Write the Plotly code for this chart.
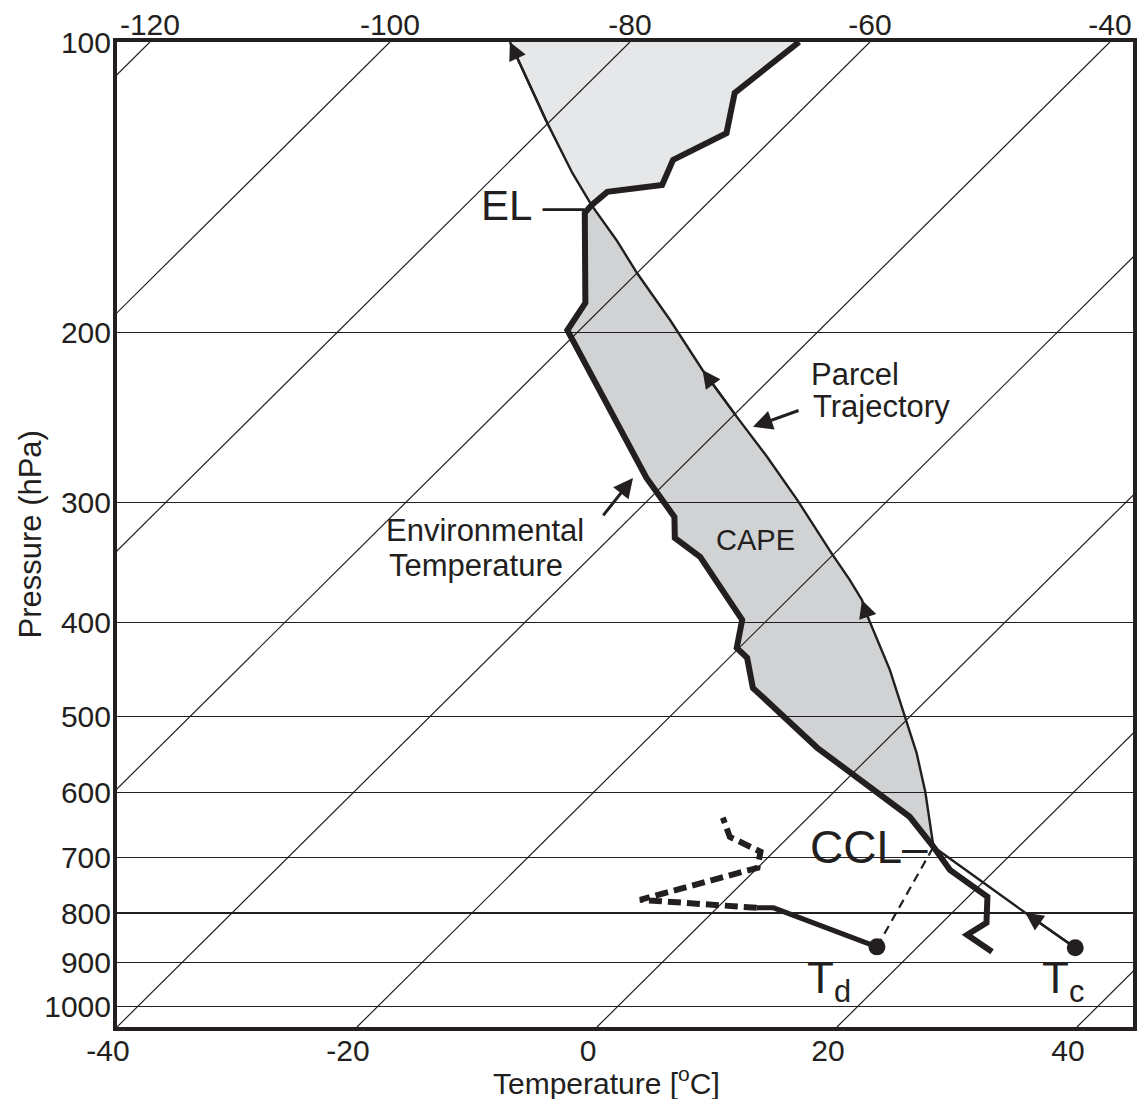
import math
import plotly.graph_objects as go

# ---------------- data ----------------
# Environmental temperature sounding, top -> bottom (hPa, deg C)
env_p = [100, 112.9, 124.3, 132.5, 140.7, 143.0, 147.6, 150.4, 186.4, 199, 283.1, 310.7,
         326.7, 341.8, 397.3, 424.8, 435.0, 467.3, 539.2, 635.7, 682.9, 721.5, 769.5,
         818.7, 842.6, 877.4]
env_T = [-65.9, -67.0, -64.3, -66.5, -65.3, -69.3, -69.5, -69.4, -61.8, -61.0, -42.0, -36.4,
         -34.6, -30.9, -22.1, -20.2, -18.5, -15.5, -5.1, 8.4, 12.9, 16.2, 21.6,
         23.7, 23.1, 26.6]
ENV_EL, ENV_CCL = 6, 20

# Parcel trajectory, bottom (convective temperature Tc) -> top
parcel_p = [869.1, 799.5, 682.9, 598.9, 545.7, 500.8, 447.6, 394.4, 378.8, 361.1, 338.6,
            298.3, 269.3, 244.7, 218.8, 194.2, 173.6, 160.4, 147.6, 136.7, 121.3, 100]
parcel_T = [33.2, 26.1, 12.9, 7.6, 3.6, -0.4, -5.6, -11.9, -13.8, -16.5, -20.3,
            -27.6, -33.7, -39.6, -46.4, -53.3, -60.0, -64.5, -69.5, -73.8, -80.1, -90.0]
PAR_CCL, PAR_EL = 2, 18
PAR_ARROWS = [1, 8, 14, 21]

# Dew point, surface (Td) -> up
td_p = [867.2, 790, 790, 775, 718, 691, 667, 637]
td_T = [16.6, 4.7, 3.3, -7.1, 0.0, -1.1, -4.9, -7.1]
TD_SOLID_END = 2

# Axes
isotherms = [-120, -100, -80, -60, -40, -20, 0, 20, 40]
bottom_ticks = [-40, -20, 0, 20, 40]
top_ticks = [-120, -100, -80, -60, -40]
p_ticks = [100, 200, 300, 400, 500, 600, 700, 800, 900, 1000]

# ---------------- skew-T geometry ----------------
P_BOT, P_TOP = 1050.0, 100.0
K = 35.19          # deg C of skew per unit ln(p)
X_RANGE = [-40, 44.667]


def skew(T, p):
    return T + K * math.log(P_BOT / p)


def sx(Ts, ps):
    return [skew(t, p) for t, p in zip(Ts, ps)]


INK = "#231f20"
FONT = "Liberation Sans, Arial, Helvetica, sans-serif"

fig = go.Figure()

# light shading above EL
up_T = parcel_T[PAR_EL:] + env_T[:ENV_EL + 1]
up_p = parcel_p[PAR_EL:] + env_p[:ENV_EL + 1]
fig.add_trace(go.Scatter(x=sx(up_T, up_p), y=up_p, mode="lines", fill="toself",
                         fillcolor="rgba(5,15,35,0.10)", line=dict(width=0),
                         hoverinfo="skip", showlegend=False))
# CAPE shading
cape_T = env_T[ENV_EL:ENV_CCL + 1] + parcel_T[PAR_CCL:PAR_EL + 1]
cape_p = env_p[ENV_EL:ENV_CCL + 1] + parcel_p[PAR_CCL:PAR_EL + 1]
fig.add_trace(go.Scatter(x=sx(cape_T, cape_p), y=cape_p, mode="lines", fill="toself",
                         fillcolor="rgba(13,18,28,0.19)", line=dict(width=0),
                         hoverinfo="skip", showlegend=False))

# isotherms (on the top axis, which shares the same range)
for T in isotherms:
    fig.add_trace(go.Scatter(x=[skew(T, P_BOT), skew(T, P_TOP)], y=[P_BOT, P_TOP],
                             mode="lines", line=dict(color=INK, width=1.2),
                             xaxis="x2", hoverinfo="skip", showlegend=False))

# environment
fig.add_trace(go.Scatter(x=sx(env_T, env_p), y=env_p, mode="lines",
                         line=dict(color=INK, width=6), hoverinfo="skip", showlegend=False))
# parcel
fig.add_trace(go.Scatter(x=sx(parcel_T, parcel_p), y=parcel_p, mode="lines",
                         line=dict(color=INK, width=2.4), hoverinfo="skip", showlegend=False))
# dew point (solid near surface, dashed above)
fig.add_trace(go.Scatter(x=sx(td_T[:TD_SOLID_END + 1], td_p[:TD_SOLID_END + 1]),
                         y=td_p[:TD_SOLID_END + 1], mode="lines",
                         line=dict(color=INK, width=5), hoverinfo="skip", showlegend=False))
fig.add_trace(go.Scatter(x=sx(td_T[TD_SOLID_END:], td_p[TD_SOLID_END:]),
                         y=td_p[TD_SOLID_END:], mode="lines",
                         line=dict(color=INK, width=6, dash="13px,6px"),
                         hoverinfo="skip", showlegend=False))
# mixing-ratio line Td -> CCL
mix_T = [td_T[0], parcel_T[PAR_CCL]]
mix_p = [td_p[0], parcel_p[PAR_CCL]]
fig.add_trace(go.Scatter(x=sx(mix_T, mix_p), y=mix_p, mode="lines",
                         line=dict(color=INK, width=2.2, dash="9px,6px"),
                         hoverinfo="skip", showlegend=False))
# surface dots Td and Tc
dot_T = [td_T[0], parcel_T[0]]
dot_p = [td_p[0], parcel_p[0]]
fig.add_trace(go.Scatter(x=sx(dot_T, dot_p), y=dot_p, mode="markers",
                         marker=dict(color=INK, size=17), hoverinfo="skip", showlegend=False))

ann = []


def label(x, p, text, size, **kw):
    d = dict(x=x, y=math.log10(p), xref="x", yref="y", text=text, showarrow=False,
             font=dict(size=size, family=FONT, color=INK))
    d.update(kw)
    ann.append(d)


def arrow(xh, ph, xt, pt, width, size):
    ann.append(dict(x=xh, y=math.log10(ph), ax=xt, ay=math.log10(pt), xref="x", yref="y",
                    axref="x", ayref="y", showarrow=True, arrowhead=2, arrowsize=size,
                    arrowwidth=width, arrowcolor=INK, text="", standoff=0))


# arrowheads along the parcel path
for i in PAR_ARROWS:
    arrow(skew(parcel_T[i], parcel_p[i]), parcel_p[i],
          skew(parcel_T[i - 1], parcel_p[i - 1]), parcel_p[i - 1], 2.4, 1.5)

# level labels
label(skew(parcel_T[PAR_EL], parcel_p[PAR_EL]), parcel_p[PAR_EL], "EL \u2014", 42,
      xanchor="right", yanchor="middle", xshift=-6)
label(skew(parcel_T[PAR_CCL], parcel_p[PAR_CCL]), parcel_p[PAR_CCL], "CCL\u2013", 46,
      xanchor="right", yanchor="middle", xshift=-3)
label(17.33, 940, "T<sub>d</sub>", 44, xanchor="left", yanchor="middle")
label(36.92, 940, "T<sub>c</sub>", 44, xanchor="left", yanchor="middle")
label(13.17, 328.2, "CAPE", 29, xanchor="center", yanchor="middle")
label(17.67, 220.9, "Parcel", 31, xanchor="left", yanchor="middle")
label(17.83, 239.0, "Trajectory", 31, xanchor="left", yanchor="middle")
label(-17.75, 321.3, "Environmental", 31, xanchor="left", yanchor="middle")
label(-17.5, 349.3, "Temperature", 31, xanchor="left", yanchor="middle")
arrow(13.0, 250.6, 16.92, 240.7, 3, 1.3)
arrow(3.0, 283.1, 0.42, 310.7, 3, 1.3)

# axis titles
ann.append(dict(x=-0.0856, y=0.5, xref="paper", yref="paper", text="Pressure (hPa)",
                textangle=-90, showarrow=False, xanchor="center", yanchor="middle",
                font=dict(size=31, family=FONT, color=INK)))
ann.append(dict(x=0.4813, y=-0.0548, xref="paper", yref="paper",
                text="Temperature [<sup>o</sup>C]", showarrow=False,
                xanchor="center", yanchor="middle",
                font=dict(size=30, family=FONT, color=INK)))

tickfont = dict(size=30, family=FONT, color=INK)
fig.update_layout(
    width=1139, height=1099,
    margin=dict(l=117, r=6, t=42, b=72, pad=0, autoexpand=False),
    paper_bgcolor="white", plot_bgcolor="white",
    showlegend=False,
    hovermode=False,
    annotations=ann,
    xaxis=dict(range=X_RANGE, tickvals=bottom_ticks, ticktext=[str(t) for t in bottom_ticks],
               showgrid=False, zeroline=False, showline=True, linewidth=4, linecolor=INK,
               mirror=True, ticks="", ticklen=0, tickfont=tickfont, ticklabelshift=-9,
               ticklabelstandoff=-6, automargin=False),
    xaxis2=dict(overlaying="x", side="top", matches="x", anchor="y",
                tickvals=[skew(t, P_TOP) for t in top_ticks],
                ticktext=[str(t) for t in top_ticks],
                showgrid=False, zeroline=False, showline=False, ticks="", tickfont=tickfont,
                ticklabelstandoff=0, automargin=False),
    yaxis=dict(type="log", range=[math.log10(P_BOT), math.log10(P_TOP)],
               tickvals=p_ticks, ticktext=[str(p) for p in p_ticks],
               showgrid=True, gridcolor=INK, gridwidth=1.3, zeroline=False,
               showline=True, linewidth=4, linecolor=INK, mirror=True, ticks="", ticklen=0,
               tickfont=tickfont, ticklabelstandoff=-4, automargin=False),
)

# remove the browser's default 8 px body margin so the figure fills the window exactly
fig.write_html("out.html", config={"displayModeBar": False, "staticPlot": True},
               post_script="document.body.style.margin='0';")
